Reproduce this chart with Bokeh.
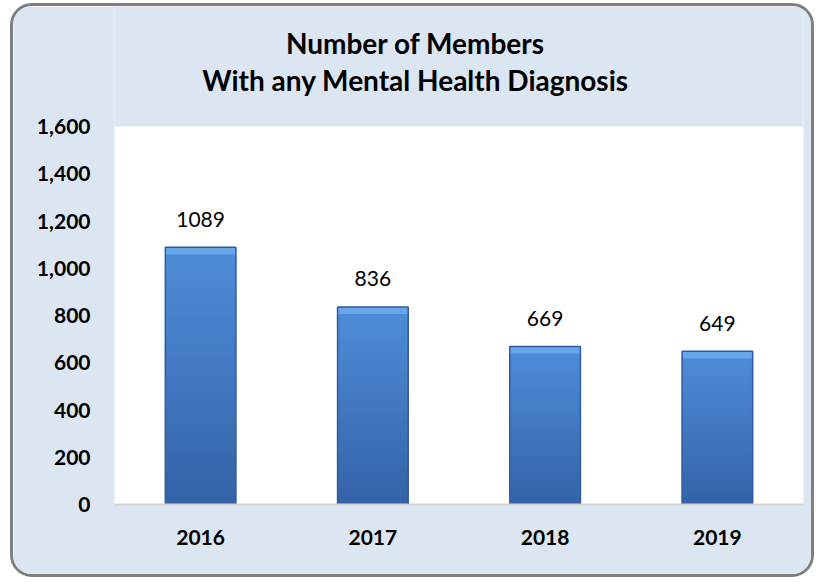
from bokeh.plotting import figure
from bokeh.models import (FactorRange, Range1d, FixedTicker, NumeralTickFormatter,
                          Label, LabelSet, ColumnDataSource, BoxAnnotation)
from bokeh.core.properties import value
from bokeh.embed import file_html
from bokeh.resources import INLINE

years = ["2016", "2017", "2018", "2019"]
members = [1089, 836, 669, 649]
y_ticks = [0, 200, 400, 600, 800, 1000, 1200, 1400, 1600]
title_lines = ["Number of Members", "With any Mental Health Diagnosis"]

FONT = "Lato"
BG = "#dce6f2"

# frame covers title area too; plotting area (0..1600) occupies lower 378 of 498 px
FRAME_H = 498
PLOT_H = 378
y_end = y_ticks[-1] * FRAME_H / PLOT_H

p = figure(width=804, height=574,
           x_range=FactorRange(*years, range_padding=0),
           y_range=Range1d(0, y_end),
           output_backend="svg", toolbar_location=None,
           min_border_left=101, min_border_right=14,
           min_border_top=0, min_border_bottom=76)
p.styles = {"border": "3px solid #7f7f7f", "border-radius": "22px", "overflow": "hidden",
            "margin-left": "10px", "margin-top": "3px"}
p.border_fill_color = BG
p.background_fill_color = BG
p.outline_line_color = None
p.xgrid.visible = False
p.ygrid.visible = False

p.add_layout(BoxAnnotation(bottom=0, top=y_ticks[-1], fill_color="white", fill_alpha=1,
                           line_color=None, level="underlay"))

# vertical gradient bars built from the data (each layer covers the one below from its start)
N = 30
c0 = (0x34, 0x63, 0xa8)
c1 = (0x50, 0x8e, 0xda)
for k in range(N):
    t = (k + 0.5) / N
    col = "#%02x%02x%02x" % tuple(int(a + (b - a) * t) for a, b in zip(c0, c1))
    src = ColumnDataSource(dict(x=years,
                                b=[v * k / N for v in members],
                                t=members))
    p.vbar(x="x", bottom="b", top="t", width=0.41, source=src,
           fill_color=col, line_color=None)

# top bevel highlight
bev = ColumnDataSource(dict(x=years, t=members, b=[v - 30 for v in members]))
p.vbar(x="x", top="t", bottom="b", width=0.41, source=bev,
       fill_color="#68a6ea", line_color=None)
# darker side edges
edge = ColumnDataSource(dict(x=years, t=members))
p.vbar(x="x", top="t", bottom=0, width=0.41, source=edge,
       fill_color=None, line_color="#2f5c9c", line_width=1.5)

lbl = ColumnDataSource(dict(x=years, y=members, txt=[str(v) for v in members]))
p.add_layout(LabelSet(x="x", y="y", text="txt", source=lbl, y_offset=28,
                      text_align="center", text_baseline="middle",
                      text_font=value(FONT), text_font_size=value("21px"),
                      text_color="#000000"))

p.yaxis.ticker = FixedTicker(ticks=y_ticks)
p.yaxis.formatter = NumeralTickFormatter(format="0,0")
for ax in (p.xaxis[0], p.yaxis[0]):
    ax.major_tick_line_color = None
    ax.minor_tick_line_color = None
    ax.major_label_text_font = FONT
    ax.major_label_text_font_style = "bold"
    ax.major_label_text_font_size = "21px"
    ax.major_label_text_color = "#000000"
p.yaxis.axis_line_color = None
p.yaxis.major_label_standoff = 18
p.xaxis.axis_line_color = "#d4d4d4"
p.xaxis.axis_line_width = 2
p.xaxis.major_label_standoff = 19

for txt, yy in zip(title_lines, [462, 425]):
    p.add_layout(Label(x=301, y=yy, x_units="screen", y_units="screen", text=txt,
                       text_align="center", text_baseline="middle",
                       text_font=FONT, text_font_style="bold",
                       text_font_size="28px", text_color="#000000"))

open("out.html", "w").write(file_html(p, INLINE))
